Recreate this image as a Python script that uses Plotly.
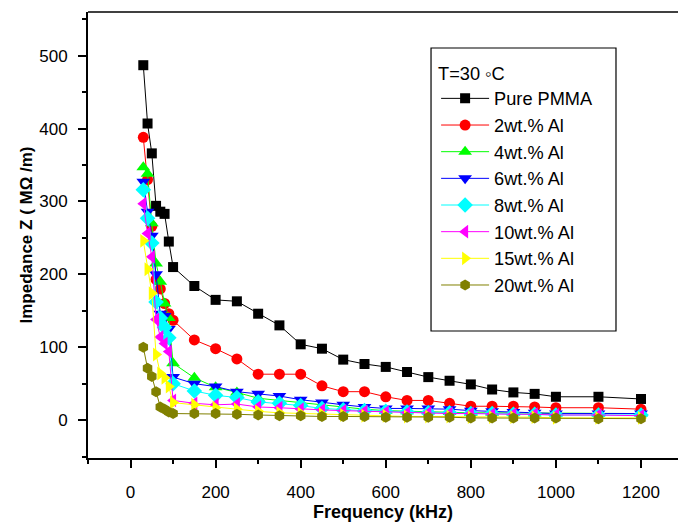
import plotly.graph_objects as go

freq = [30, 40, 50, 60, 70, 80, 90, 100, 150, 200, 250, 300, 350, 400, 450, 500,
        550, 600, 650, 700, 750, 800, 850, 900, 950, 1000, 1100, 1200]

pure_pmma = [487, 407, 366, 294, 286, 283, 245, 210, 184, 165, 163, 146, 130, 104,
             98, 83, 77, 73, 66, 59, 54, 49, 42, 38, 36, 32, 32, 29]
al_2 = [388, 330, 266, 193, 180, 160, 146, 137, 110, 98, 84, 63, 63, 63, 47, 39,
        39, 32, 27, 27, 23, 19, 19, 19, 18, 17, 17, 15]
al_4 = [347, 338, 270, 215, 190, 160, 140, 78, 58, 45, 38, 30, 27, 24, 20, 17, 15,
        13, 12, 12, 11, 10, 10, 10, 9, 9, 9, 9]
al_6 = [327, 286, 253, 200, 146, 143, 125, 59, 50, 46, 39, 36, 33, 28, 24, 21, 18,
        16, 16, 16, 15, 13, 12, 11, 10, 9, 9, 9]
al_8 = [316, 277, 243, 162, 140, 127, 113, 50, 40, 34, 31, 25, 23, 20, 16, 14, 13,
        12, 11, 10, 10, 9, 9, 8, 8, 7, 7, 7]
al_10 = [297, 256, 224, 138, 114, 105, 94, 27, 23, 21, 22, 18, 17, 15, 14, 13, 12,
         11, 10, 10, 9, 9, 8, 8, 8, 7, 7, 6]
al_15 = [246, 207, 174, 90, 64, 58, 46, 24, 21, 17, 15, 12, 10, 9, 8, 7, 6, 6, 5,
         5, 5, 4, 4, 4, 4, 3, 3, 3]
al_20 = [100, 71, 60, 39, 18, 15, 11, 9, 9, 9, 8, 7, 6, 6, 5, 5, 5, 4, 4, 4, 4, 3,
         3, 3, 3, 3, 2, 2]

names = ["Pure PMMA", "2wt.% Al", "4wt.% Al", "6wt.% Al", "8wt.% Al",
         "10wt.% Al", "15wt.% Al", "20wt.% Al"]
series = [pure_pmma, al_2, al_4, al_6, al_8, al_10, al_15, al_20]
colors = ["#000000", "#FF0000", "#00FF00", "#0000FF", "#00FFFF", "#FF00FF",
          "#FFFF00", "#808000"]
symbols = ["square", "circle", "triangle-up", "triangle-down", "diamond",
           "triangle-left", "triangle-right", "hexagon"]
sizes = [10, 11, 12, 12, 12, 12, 12, 11]

FONT = "Liberation Sans, Arial, sans-serif"

fig = go.Figure()
for name, y, c, s, sz in zip(names, series, colors, symbols, sizes):
    fig.add_trace(go.Scatter(
        x=freq, y=y, name=name, mode="lines+markers",
        line=dict(color=c, width=1),
        marker=dict(symbol=s, size=sz, color=c, line=dict(width=0)),
    ))

# legend frame (taller than the legend entries, as in the reference)
fig.add_shape(type="rect", xref="paper", yref="paper",
              x0=0.5814, x1=0.8949, y0=0.2848, y1=0.9193,
              line=dict(color="black", width=1.2), fillcolor="rgba(0,0,0,0)")
# top frame line
fig.add_shape(type="line", xref="paper", yref="paper", x0=0, x1=1, y0=1, y1=1,
              line=dict(color="black", width=1.5))

fig.update_layout(
    width=678, height=522,
    margin=dict(l=88, r=0, t=12, b=64),
    paper_bgcolor="white", plot_bgcolor="white",
    font=dict(family=FONT, size=17, color="black"),
    showlegend=True,
    legend=dict(
        x=0.59, y=0.9005, xanchor="left", yanchor="top",
        bgcolor="rgba(0,0,0,0)", borderwidth=0,
        font=dict(family=FONT, size=18.2, color="black"),
        title=dict(text="T=30 \u25e6C", font=dict(family=FONT, size=18.2)),
        tracegroupgap=0, itemwidth=48,
    ),
    xaxis=dict(
        range=[-100, 1287], tickmode="linear", tick0=0, dtick=200,
        showgrid=False, zeroline=False, automargin=False,
        showline=True, linecolor="black", linewidth=2,
        ticks="outside", ticklen=8, tickwidth=1.5, tickcolor="black",
        minor=dict(ticks="outside", ticklen=4, tickwidth=1.5, tickcolor="black",
                   dtick=100, tick0=0, showgrid=False),
        tickfont=dict(family=FONT, size=17),
        ticklabelstandoff=10,
        title=dict(text="<b>Frequency (kHz)</b>", font=dict(family=FONT, size=18),
                   standoff=8),
    ),
    yaxis=dict(
        range=[-52, 560], tickmode="linear", tick0=0, dtick=100,
        showgrid=False, zeroline=False, automargin=False,
        showline=True, linecolor="black", linewidth=2,
        ticks="outside", ticklen=8, tickwidth=1.5, tickcolor="black",
        minor=dict(ticks="outside", ticklen=4, tickwidth=1.5, tickcolor="black",
                   dtick=50, tick0=0, showgrid=False),
        tickfont=dict(family=FONT, size=17),
        ticklabelstandoff=7,
        title=dict(text="<b>Impedance Z ( M\u03a9 /m)</b>",
                   font=dict(family=FONT, size=17), standoff=2),
    ),
)

fig.write_html(
    "out.html",
    config={"displayModeBar": False},
    post_script="document.body.style.margin='0';document.body.style.padding='0';",
)
